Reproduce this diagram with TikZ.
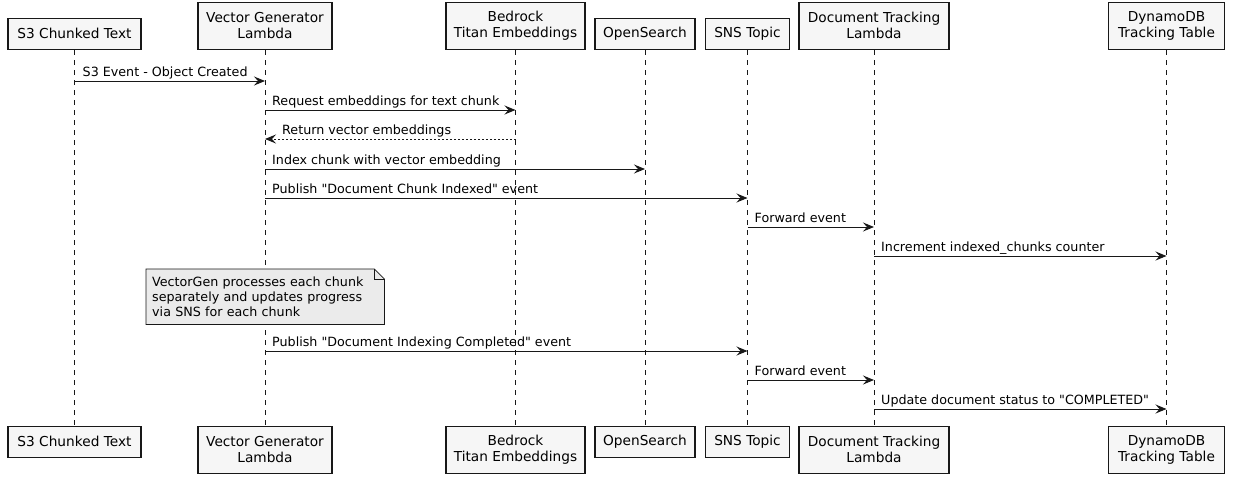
\documentclass[tikz,border=0pt]{standalone}
\usepackage{fontspec}
\setmainfont{DejaVu Sans}[Ligatures=TeXOff]
\usetikzlibrary{arrows.meta,backgrounds}
\definecolor{ink}{HTML}{181818}
\definecolor{boxfill}{HTML}{F6F6F6}
\definecolor{notefill}{HTML}{EBEBEB}
\tikzset{
  part/.style={draw=ink, line width=1.3pt, fill=boxfill, inner sep=0pt, align=center,
    font=\fontsize{13.7}{16}\selectfont, text=black},
  one/.style={minimum height=31pt},
  two/.style={minimum height=47pt},
  life/.style={draw=ink, line width=0.7pt, dash pattern=on 5pt off 5pt},
  msg/.style={draw=ink, line width=1pt, -{Stealth[length=11pt,width=9pt,inset=4pt]}},
  ret/.style={msg, dash pattern=on 2pt off 2pt},
  lbl/.style={font=\fontsize{12.7}{15}\selectfont, anchor=base west, inner sep=0pt, text=black},
  notetxt/.style={font=\fontsize{12.7}{15}\selectfont, align=left, text width=226pt,
    inner xsep=6pt, inner ysep=0pt, minimum width=238pt, minimum height=55pt, text=black},
  notebox/.style={draw=ink, fill=notefill, line width=0.8pt},
}
\begin{document}
\begin{tikzpicture}[x=1pt,y=-1pt]
\useasboundingbox (0,0) rectangle (1234,482);
% top participants
\node[part,one,minimum width=133pt,anchor=south] (s3t) at (74.5,50) {S3 Chunked Text};
\node[part,two,minimum width=134pt,anchor=south] (vgt) at (265,50) {Vector Generator\\Lambda};
\node[part,two,minimum width=139pt,anchor=south] (brt) at (515.5,50) {Bedrock\\Titan Embeddings};
\node[part,one,minimum width=100pt,anchor=south] (ost) at (645,50) {OpenSearch};
\node[part,one,minimum width=84pt,anchor=south] (snt) at (747.5,50) {SNS Topic};
\node[part,two,minimum width=150pt,anchor=south] (dtt) at (874,50) {Document Tracking\\Lambda};
\node[part,two,minimum width=116pt,anchor=south] (dbt) at (1166.5,50) {DynamoDB\\Tracking Table};
% bottom participants
\node[part,one,minimum width=133pt,anchor=north] (s3b) at (74.5,425.5) {S3 Chunked Text};
\node[part,two,minimum width=134pt,anchor=north] (vgb) at (265,425.5) {Vector Generator\\Lambda};
\node[part,two,minimum width=139pt,anchor=north] (brb) at (515.5,425.5) {Bedrock\\Titan Embeddings};
\node[part,one,minimum width=100pt,anchor=north] (osb) at (645,425.5) {OpenSearch};
\node[part,one,minimum width=84pt,anchor=north] (snb) at (747.5,425.5) {SNS Topic};
\node[part,two,minimum width=150pt,anchor=north] (dtb) at (874,425.5) {Document Tracking\\Lambda};
\node[part,two,minimum width=116pt,anchor=north] (dbb) at (1166.5,425.5) {DynamoDB\\Tracking Table};
% lifelines
\begin{scope}[on background layer]
\draw[life] (s3t.south) -- (s3b.north);
\draw[life] (vgt.south) -- (vgb.north);
\draw[life] (brt.south) -- (brb.north);
\draw[life] (ost.south) -- (osb.north);
\draw[life] (snt.south) -- (snb.north);
\draw[life] (dtt.south) -- (dtb.north);
\draw[life] (dbt.south) -- (dbb.north);
\end{scope}
% message rows
\coordinate (m1) at (0,81);
\coordinate (m2) at (0,110);
\coordinate (m3) at (0,139);
\coordinate (m4) at (0,169);
\coordinate (m5) at (0,198);
\coordinate (m6) at (0,227);
\coordinate (m7) at (0,256);
\coordinate (m8) at (0,351);
\coordinate (m9) at (0,380);
\coordinate (m10) at (0,409);
% messages
\draw[msg] (s3t.south |- m1) -- (vgt.south |- m1);
\path (s3t.south |- m1) ++(8,-5) node[lbl] (l1) {S3 Event - Object Created};
\draw[msg] (vgt.south |- m2) -- (brt.south |- m2);
\path (vgt.south |- m2) ++(7,-5) node[lbl] (l2) {Request embeddings for text chunk};
\draw[ret] (brt.south |- m3) -- (vgt.south |- m3);
\path (vgt.south |- m3) ++(17,-5) node[lbl] (l3) {Return vector embeddings};
\draw[msg] (vgt.south |- m4) -- (ost.south |- m4);
\path (vgt.south |- m4) ++(7,-5) node[lbl] (l4) {Index chunk with vector embedding};
\draw[msg] (vgt.south |- m5) -- (snt.south |- m5);
\path (vgt.south |- m5) ++(7,-5) node[lbl] (l5) {Publish "Document Chunk Indexed" event};
\draw[msg] (snt.south |- m6) -- (dtt.south |- m6);
\path (snt.south |- m6) ++(7,-5) node[lbl] (l6) {Forward event};
\draw[msg] (dtt.south |- m7) -- (dbt.south |- m7);
\path (dtt.south |- m7) ++(7,-5) node[lbl] (l7) {Increment indexed\_chunks counter};
% note
\node[notetxt,anchor=north west] (note) at (146,269) {VectorGen processes each chunk\\separately and updates progress\\via SNS for each chunk};
\begin{scope}[on background layer]
\draw[notebox] (note.north west) -- ([xshift=-10pt]note.north east) -- ([yshift=-10pt]note.north east) -- (note.south east) -- (note.south west) -- cycle;
\draw[notebox, fill=none] ([xshift=-10pt]note.north east) -- ([xshift=-10pt,yshift=-10pt]note.north east) -- ([yshift=-10pt]note.north east);
\end{scope}
% second batch
\draw[msg] (vgt.south |- m8) -- (snt.south |- m8);
\path (vgt.south |- m8) ++(7,-5) node[lbl] (l8) {Publish "Document Indexing Completed" event};
\draw[msg] (snt.south |- m9) -- (dtt.south |- m9);
\path (snt.south |- m9) ++(7,-5) node[lbl] (l9) {Forward event};
\draw[msg] (dtt.south |- m10) -- (dbt.south |- m10);
\path (dtt.south |- m10) ++(7,-5) node[lbl] (l10) {Update document status to "COMPLETED"};
\end{tikzpicture}
\end{document}
